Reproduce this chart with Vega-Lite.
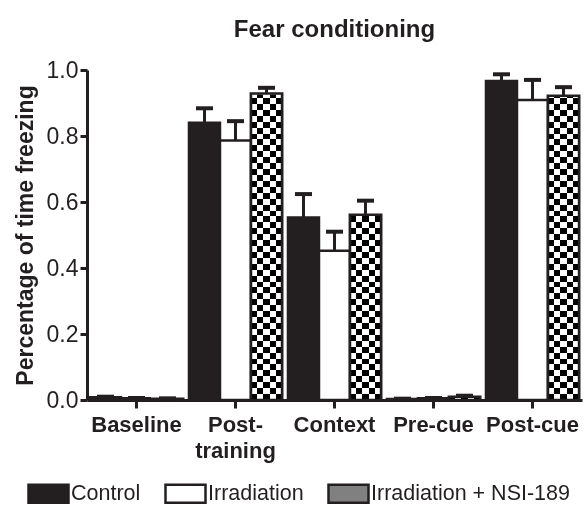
{
  "$schema": "https://vega.github.io/schema/vega-lite/v6.json",
  "autosize": "none",
  "width": 495,
  "height": 330,
  "padding": {"left": 87, "top": 70, "right": 2, "bottom": 105},
  "background": "white",
  "title": {"text": "Fear conditioning", "fontSize": 24, "fontWeight": "bold", "font": "Liberation Sans", "color": "#231f20", "frame": "group", "anchor": "middle", "baseline": "bottom", "offset": -7},
  "config": {
    "view": {"stroke": null},
    "font": "Liberation Sans",
    "axis": {"domainColor": "#231f20", "tickColor": "#231f20", "labelColor": "#231f20", "titleColor": "#231f20", "grid": false}
  },
  "data": {"values": [
    {"phase": "Baseline", "group": "Control", "value": 0.008, "upper": 0.010},
    {"phase": "Baseline", "group": "Irradiation", "value": 0.005, "upper": 0.006},
    {"phase": "Baseline", "group": "Irradiation + NSI-189", "value": 0.004, "upper": 0.005},
    {"phase": "Post-training", "group": "Control", "value": 0.840, "upper": 0.884},
    {"phase": "Post-training", "group": "Irradiation", "value": 0.786, "upper": 0.845},
    {"phase": "Post-training", "group": "Irradiation + NSI-189", "value": 0.929, "upper": 0.946},
    {"phase": "Context", "group": "Control", "value": 0.553, "upper": 0.624},
    {"phase": "Context", "group": "Irradiation", "value": 0.452, "upper": 0.510},
    {"phase": "Context", "group": "Irradiation + NSI-189", "value": 0.561, "upper": 0.604},
    {"phase": "Pre-cue", "group": "Control", "value": 0.003, "upper": 0.004},
    {"phase": "Pre-cue", "group": "Irradiation", "value": 0.005, "upper": 0.006},
    {"phase": "Pre-cue", "group": "Irradiation + NSI-189", "value": 0.010, "upper": 0.013},
    {"phase": "Post-cue", "group": "Control", "value": 0.967, "upper": 0.987},
    {"phase": "Post-cue", "group": "Irradiation", "value": 0.909, "upper": 0.970},
    {"phase": "Post-cue", "group": "Irradiation + NSI-189", "value": 0.922, "upper": 0.948}
  ]},
  "encoding": {
    "x": {"field": "phase", "type": "nominal", "sort": ["Baseline", "Post-training", "Context", "Pre-cue", "Post-cue"],
      "scale": {"paddingInner": 0.06, "paddingOuter": 0.03},
      "axis": {"title": null, "labelAngle": 0, "labelFontSize": 22, "labelFontWeight": "bold", "labelPadding": 6, "tickSize": 8, "tickWidth": 3, "domainWidth": 3, "labelLineHeight": 26,
        "labelExpr": "datum.label == 'Post-training' ? ['Post-', 'training'] : datum.label"}},
    "xOffset": {"field": "group", "type": "nominal", "sort": ["Control", "Irradiation", "Irradiation + NSI-189"], "scale": {"paddingInner": 0, "paddingOuter": 0}}
  },
  "layer": [
    {
      "mark": {"type": "bar", "stroke": "#231f20", "strokeWidth": 2.5},
      "encoding": {
        "y": {"field": "value", "type": "quantitative", "scale": {"domain": [0, 1], "nice": false},
          "axis": {"title": "Percentage of time freezing", "titleFontSize": 23, "titleFontWeight": "bold", "titlePadding": 9, "values": [0, 0.2, 0.4, 0.6, 0.8, 1.0], "format": ".1f", "labelFontSize": 23, "labelPadding": 2, "tickSize": 7, "tickWidth": 3, "domainWidth": 3}},
        "fill": {"field": "group", "type": "nominal", "sort": ["Control", "Irradiation", "Irradiation + NSI-189"],
          "scale": {"range": ["#231f20", "#ffffff", "#808080"]},
          "legend": {"title": null, "orient": "none", "direction": "horizontal", "legendX": -60, "legendY": 402, "padding": 0,
            "symbolType": "M-1,-0.45H1V0.45H-1Z", "symbolSize": 1600, "symbolStrokeColor": "#231f20", "symbolStrokeWidth": 2.5,
            "labelFontSize": 21.5, "labelColor": "#231f20", "labelOffset": 1, "columnPadding": 19, "labelLimit": 400}}
      }
    },
    {
      "transform": [{"joinaggregate": [{"op": "max", "field": "upper", "as": "top"}]}, {"filter": "datum.group == 'Irradiation + NSI-189'"}],
      "mark": {"type": "bar", "fill": {"gradient": "linear", "x1": 0, "y1": 0, "x2": 0, "y2": 1, "stops": [
        {"offset": 0, "color": "#fff"}, {"offset": 0.0182, "color": "#fff"},
        {"offset": 0.0182, "color": "#000"}, {"offset": 0.0364, "color": "#000"},
        {"offset": 0.0364, "color": "#fff"}, {"offset": 0.0545, "color": "#fff"},
        {"offset": 0.0545, "color": "#000"}, {"offset": 0.0727, "color": "#000"},
        {"offset": 0.0727, "color": "#fff"}, {"offset": 0.0909, "color": "#fff"},
        {"offset": 0.0909, "color": "#000"}, {"offset": 0.1091, "color": "#000"},
        {"offset": 0.1091, "color": "#fff"}, {"offset": 0.1273, "color": "#fff"},
        {"offset": 0.1273, "color": "#000"}, {"offset": 0.1455, "color": "#000"},
        {"offset": 0.1455, "color": "#fff"}, {"offset": 0.1636, "color": "#fff"},
        {"offset": 0.1636, "color": "#000"}, {"offset": 0.1818, "color": "#000"},
        {"offset": 0.1818, "color": "#fff"}, {"offset": 0.2, "color": "#fff"},
        {"offset": 0.2, "color": "#000"}, {"offset": 0.2182, "color": "#000"},
        {"offset": 0.2182, "color": "#fff"}, {"offset": 0.2364, "color": "#fff"},
        {"offset": 0.2364, "color": "#000"}, {"offset": 0.2545, "color": "#000"},
        {"offset": 0.2545, "color": "#fff"}, {"offset": 0.2727, "color": "#fff"},
        {"offset": 0.2727, "color": "#000"}, {"offset": 0.2909, "color": "#000"},
        {"offset": 0.2909, "color": "#fff"}, {"offset": 0.3091, "color": "#fff"},
        {"offset": 0.3091, "color": "#000"}, {"offset": 0.3273, "color": "#000"},
        {"offset": 0.3273, "color": "#fff"}, {"offset": 0.3455, "color": "#fff"},
        {"offset": 0.3455, "color": "#000"}, {"offset": 0.3636, "color": "#000"},
        {"offset": 0.3636, "color": "#fff"}, {"offset": 0.3818, "color": "#fff"},
        {"offset": 0.3818, "color": "#000"}, {"offset": 0.4, "color": "#000"},
        {"offset": 0.4, "color": "#fff"}, {"offset": 0.4182, "color": "#fff"},
        {"offset": 0.4182, "color": "#000"}, {"offset": 0.4364, "color": "#000"},
        {"offset": 0.4364, "color": "#fff"}, {"offset": 0.4545, "color": "#fff"},
        {"offset": 0.4545, "color": "#000"}, {"offset": 0.4727, "color": "#000"},
        {"offset": 0.4727, "color": "#fff"}, {"offset": 0.4909, "color": "#fff"},
        {"offset": 0.4909, "color": "#000"}, {"offset": 0.5091, "color": "#000"},
        {"offset": 0.5091, "color": "#fff"}, {"offset": 0.5273, "color": "#fff"},
        {"offset": 0.5273, "color": "#000"}, {"offset": 0.5455, "color": "#000"},
        {"offset": 0.5455, "color": "#fff"}, {"offset": 0.5636, "color": "#fff"},
        {"offset": 0.5636, "color": "#000"}, {"offset": 0.5818, "color": "#000"},
        {"offset": 0.5818, "color": "#fff"}, {"offset": 0.6, "color": "#fff"},
        {"offset": 0.6, "color": "#000"}, {"offset": 0.6182, "color": "#000"},
        {"offset": 0.6182, "color": "#fff"}, {"offset": 0.6364, "color": "#fff"},
        {"offset": 0.6364, "color": "#000"}, {"offset": 0.6545, "color": "#000"},
        {"offset": 0.6545, "color": "#fff"}, {"offset": 0.6727, "color": "#fff"},
        {"offset": 0.6727, "color": "#000"}, {"offset": 0.6909, "color": "#000"},
        {"offset": 0.6909, "color": "#fff"}, {"offset": 0.7091, "color": "#fff"},
        {"offset": 0.7091, "color": "#000"}, {"offset": 0.7273, "color": "#000"},
        {"offset": 0.7273, "color": "#fff"}, {"offset": 0.7455, "color": "#fff"},
        {"offset": 0.7455, "color": "#000"}, {"offset": 0.7636, "color": "#000"},
        {"offset": 0.7636, "color": "#fff"}, {"offset": 0.7818, "color": "#fff"},
        {"offset": 0.7818, "color": "#000"}, {"offset": 0.8, "color": "#000"},
        {"offset": 0.8, "color": "#fff"}, {"offset": 0.8182, "color": "#fff"},
        {"offset": 0.8182, "color": "#000"}, {"offset": 0.8364, "color": "#000"},
        {"offset": 0.8364, "color": "#fff"}, {"offset": 0.8545, "color": "#fff"},
        {"offset": 0.8545, "color": "#000"}, {"offset": 0.8727, "color": "#000"},
        {"offset": 0.8727, "color": "#fff"}, {"offset": 0.8909, "color": "#fff"},
        {"offset": 0.8909, "color": "#000"}, {"offset": 0.9091, "color": "#000"},
        {"offset": 0.9091, "color": "#fff"}, {"offset": 0.9273, "color": "#fff"},
        {"offset": 0.9273, "color": "#000"}, {"offset": 0.9455, "color": "#000"},
        {"offset": 0.9455, "color": "#fff"}, {"offset": 0.9636, "color": "#fff"},
        {"offset": 0.9636, "color": "#000"}, {"offset": 0.9818, "color": "#000"},
        {"offset": 0.9818, "color": "#fff"}, {"offset": 1, "color": "#fff"}]}},
      "encoding": {"y": {"field": "top", "type": "quantitative"}}
    },
    {
      "transform": [{"joinaggregate": [{"op": "max", "field": "upper", "as": "top"}]}, {"filter": "datum.group == 'Irradiation + NSI-189'"}],
      "mark": {"type": "bar", "blend": "difference", "fill": {"gradient": "linear", "x1": 0, "y1": 0, "x2": 1, "y2": 0, "stops": [
        {"offset": 0, "color": "#fff"}, {"offset": 0.2, "color": "#fff"},
        {"offset": 0.2, "color": "#000"}, {"offset": 0.4, "color": "#000"},
        {"offset": 0.4, "color": "#fff"}, {"offset": 0.6, "color": "#fff"},
        {"offset": 0.6, "color": "#000"}, {"offset": 0.8, "color": "#000"},
        {"offset": 0.8, "color": "#fff"}, {"offset": 1, "color": "#fff"}]}},
      "encoding": {"y": {"field": "top", "type": "quantitative"}}
    },
    {
      "transform": [{"joinaggregate": [{"op": "max", "field": "upper", "as": "top"}]}, {"filter": "datum.group == 'Irradiation + NSI-189'"}],
      "mark": {"type": "bar", "fill": "#ffffff", "stroke": "#ffffff", "strokeWidth": 2},
      "encoding": {"y": {"field": "top", "type": "quantitative"}, "y2": {"field": "value"}}
    },
    {
      "transform": [{"filter": "datum.group == 'Irradiation + NSI-189'"}],
      "mark": {"type": "bar", "fill": "#ffffff", "fillOpacity": 0, "stroke": "#231f20", "strokeWidth": 2.5},
      "encoding": {"y": {"field": "value", "type": "quantitative"}}
    },
    {
      "mark": {"type": "rule", "stroke": "#231f20", "strokeWidth": 3},
      "encoding": {"y": {"field": "upper", "type": "quantitative"}, "y2": {"field": "value"}}
    },
    {
      "mark": {"type": "tick", "color": "#231f20", "size": 17, "thickness": 4, "opacity": 1},
      "encoding": {"y": {"field": "upper", "type": "quantitative"}}
    }
  ]
}
